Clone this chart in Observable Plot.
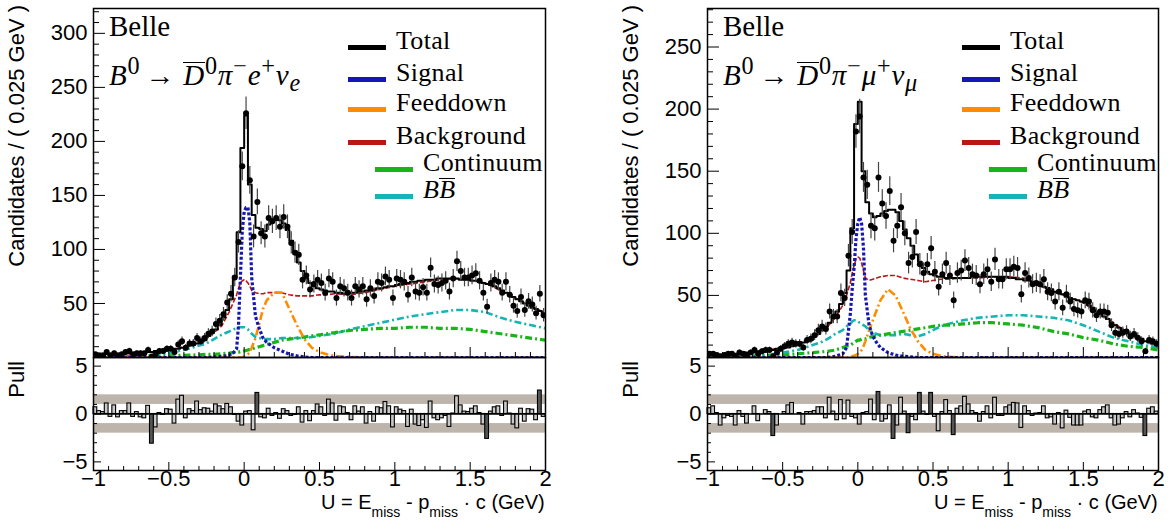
<!DOCTYPE html>
<html><head><meta charset="utf-8">
<script src="https://cdn.jsdelivr.net/npm/d3@7"></script>
<script src="https://cdn.jsdelivr.net/npm/@observablehq/plot@0.6"></script>
<style>
body{margin:0;background:#fff;}
#root{position:relative;width:1170px;height:529px;overflow:hidden;font-family:"Liberation Sans",Arial,sans-serif;color:#000;}
.abs{position:absolute;white-space:nowrap;}
.serif{font-family:"Liberation Serif","Times New Roman",serif;}
.rot{transform-origin:0 0;transform:rotate(-90deg);text-align:right;font-size:22px;line-height:24px;}
.leg-line{position:absolute;height:5px;}
.leg-text{position:absolute;font-size:26px;line-height:26px;letter-spacing:0.3px;white-space:nowrap;font-family:"Liberation Serif","Times New Roman",serif;}
sub.s{font-size:14px;vertical-align:-8px;line-height:0;}
.bar{display:inline-block;line-height:0.72em;border-top:1.5px solid #000;padding-top:2px;}
</style></head>
<body><div id="root"></div>
<script>
// ---------- binning ----------
const BIN_LO = -1, BIN_W = 0.025;   // 120 bins of 0.025 GeV from -1 to 2

// ---------- axis ticks ----------
const xMajor = [-1, -0.5, 0, 0.5, 1, 1.5, 2];
const xMinor = [-0.9,-0.8,-0.7,-0.6,-0.4,-0.3,-0.2,-0.1,0.1,0.2,0.3,0.4,0.6,0.7,0.8,0.9,1.1,1.2,1.3,1.4,1.6,1.7,1.8,1.9];
const xLabels = [-1, -0.5, 0, 0.5, 1, 1.5, 2];
const yLabelsL = [50, 100, 150, 200, 250, 300];
const yLabelsR = [50, 100, 150, 200, 250];
const pullLabels = [-5, 0, 5];
const pullMinor = [-4, -3, -2, -1, 1, 2, 3, 4];
const pullBands = [[1, 2], [-2, -1]];

// ---------- left panel: B0 -> D0bar pi- e+ nu ----------
const leftData = [
 3,2,2,5,2,4,2,3,5,6, 3,4,4,4,7,1,3,6,6,8,
 8,5,12,15,9,13,13,18,15,18, 22,24,31,34,40,51,59,74,107,177,
 226,164,112,144,115,112,129,126,129,121, 130,121,106,97,95,72,76,63,68,72,
 69,60,73,70,55,66,64,60,55,66, 63,66,54,64,57,70,69,75,72,55,
 73,72,70,58,74,61,60,65,60,83, 68,67,69,71,61,73,89,80,74,74,
 76,78,71,60,47,69,72,70,60,70, 58,48,43,56,44,52,49,41,59,39];
const leftTotal = [
 2,2,2,3,3,3,3,3,4,4, 4,4,5,5,5,5,6,6,6,7,
 7,8,8,9,10,11,12,13,14,16, 20,23,26,30,37,44,54,75,116,194,
 224,160,132,120,119,117,123,128,128,127, 124,118,108,98,88,80,73,69,66,64,
 63,62,61,61,60,60,59,59,60,60, 61,61,62,62,63,64,64,65,66,66,
 67,68,68,69,70,70,71,71,72,72, 72,73,73,73,73,73,73,72,72,72,
 71,71,70,69,68,67,66,64,62,60, 58,56,54,52,50,48,46,45,43,41];
const leftPull = [
 0.7,0.3,0.2,1.1,-0.3,0.9,-0.35,0.3,0.3,1.1, -0.3,0.2,-0.35,-0.45,0.85,-3.1,-1.4,0.1,-0.1,0.5,
 0.45,-1.0,1.5,1.9,-0.45,0.5,0.3,1.3,0.4,0.6, 0.55,0.25,1.0,0.8,0.5,1.05,0.7,-0.1,-0.8,-1.2,
 0.25,0.3,-1.7,2.2,-0.35,-0.45,0.55,-0.2,0.1,-0.5, 0.5,0.3,-0.2,-0.1,0.7,-0.9,0.3,-0.75,0.3,1.0,
 0.7,-0.2,1.5,1.1,-0.7,0.8,0.7,0.1,-0.65,0.8, 0.25,0.7,-1.0,0.2,-0.8,0.7,0.6,1.25,0.8,-1.4,
 0.7,0.45,0.3,-1.35,0.45,-1.1,-1.25,-0.65,-1.45,1.3, -0.45,-0.65,-0.45,-0.2,-1.35,0.05,1.85,0.9,0.25,0.2,
 0.55,0.8,0.1,-1.1,-2.6,0.25,0.7,0.8,-0.2,1.3, 0.05,-1.1,-1.5,0.55,-0.8,0.5,0.45,-0.65,2.45,-0.3];

// ---------- right panel: B0 -> D0bar pi- mu+ nu ----------
const rightData = [
 3,3,2,1,2,3,3,1,4,3, 2,4,6,3,5,6,6,1,4,7,
 9,11,12,11,11,8,14,15,18,22, 25,23,37,33,33,52,48,82,101,182,
 194,145,139,106,104,145,124,114,134,94, 106,121,100,76,81,101,75,68,75,88,
 69,57,67,76,66,46,68,70,78,72, 67,66,59,67,71,61,79,63,63,71,
 71,73,72,51,68,64,59,60,59,63, 53,52,45,53,40,51,45,39,38,37,
 46,45,38,34,37,37,36,26,20,19, 20,21,17,19,16,13,5,14,13,11];
const rightTotal = [
 2,2,2,2,3,3,3,3,3,4, 4,4,4,5,5,5,6,6,7,7,
 8,8,9,10,11,12,13,14,17,19, 22,25,28,32,37,43,52,70,104,188,
 206,150,125,116,113,114,116,118,119,119, 117,110,103,96,90,83,77,72,69,67,
 66,65,65,64,64,64,64,64,64,64, 65,65,65,65,65,65,65,65,65,65,
 64,64,63,63,62,62,61,60,58,57, 56,55,53,52,51,49,48,47,46,45,
 44,42,40,37,35,33,31,28,26,24, 22,20,19,17,16,15,13,12,11,10];
const rightPull = [
 0.6,0.8,0.1,-1.2,-0.45,-0.2,-0.3,-1.2,0.3,-0.3, -1.0,0.0,0.8,-0.75,0.0,0.4,0.2,-2.3,-1.2,0.0,
 0.2,0.9,1.15,0.0,0.1,-1.1,0.2,0.2,0.3,0.7, 0.7,-0.45,1.7,0.25,-0.65,1.45,-0.55,1.4,-0.3,-0.45,
 -1.1,0.1,0.2,1.5,-0.65,2.3,-0.8,-0.55,0.9,-2.6, -1.2,1.7,0.25,-2.0,-0.3,-0.65,2.2,0.25,-0.1,2.2,
 -0.3,-1.8,0.2,1.45,0.3,-2.2,0.55,0.8,1.8,1.0, 0.3,0.1,-0.8,0.2,0.8,-0.45,1.7,-0.2,-0.2,0.7,
 0.9,1.15,1.1,-1.45,0.8,0.3,-0.2,0.05,0.1,0.8, -0.45,-0.35,-1.1,0.1,-1.5,0.35,-0.4,-1.2,-1.2,-1.2,
 0.25,0.4,-0.35,-0.45,0.4,0.7,0.9,-0.45,-1.2,-1.1, -0.45,0.2,-0.35,0.4,0.05,-0.4,-2.3,0.55,0.7,0.25];

// ---------- fit components (sampled at uComp) ----------
const uComp = [-1,-0.9,-0.8,-0.7,-0.6,-0.5,-0.4,-0.3,-0.25,-0.2,-0.15,-0.1,-0.075,-0.05,-0.0375,-0.025,-0.0125,0,0.0125,0.025,0.0375,0.05,0.075,0.1,0.125,0.15,0.2,0.25,0.3,0.35,0.4,0.45,0.5,0.55,0.6,0.7,0.8,0.9,1.0,1.1,1.2,1.3,1.4,1.5,1.6,1.7,1.8,1.9,2.0];
const sigL  = [0,0,0,0,0,0,0,0,0,0.5,1,2,4,8,30,74,117,135,139,139,125,74,38,27,18,14,9,6,3,1.5,0.5,0,0,0,0,0,0,0,0,0,0,0,0,0,0,0,0,0,0];
const fdL   = [0,0,0,0,0,0,0,0,0,0,0,0,0,0,0,0,0,1,2,3,5,9,18,31,45,53,60,60,45,30,17,9,5,3,1.5,0.5,0,0,0,0,0,0,0,0,0,0,0,0,0];
const bkgL  = [2,2.5,3,4,5,6,10,15,18,23,29,42,50,58,64,69,71,72,71,69,66,62,60,59,59,60,60,60,58,57,57,57,58,58,59,58,60,63,66,68,70,72,73,72,69,62,55,48,41];
const contL = [0,0,0.5,1,1,1.5,2,2.5,3,3,3.5,4,4.5,5,5,5.5,5.5,6,6.5,7,7.5,8,9,10,11,12,14,16,17,18,19,20,21,22,23,25,26,27,27,28,28,27,27,26,24,22,20,18,16];
const bbL   = [0,0,0.5,1,2,4,7,11,13,17,21,24,26,27,28,28,28,28,27,26,24,22,19,18,17,17,17,18,18,18,18,19,20,21,22,26,29,32,35,38,40,42,44,44,42,37,33,30,27];
const sigR  = [0,0,0,0,0,0,0,0,0,0,1,3,8,35,55,72,95,108,113,108,88,50,26,17,12,8,4,2,1,0.5,0,0,0,0,0,0,0,0,0,0,0,0,0,0,0,0,0,0,0];
const fdR   = [0,0,0,0,0,0,0,0,0,0,0,0,0,0.5,1,1.5,2,3,4,6,9,13,22,30,38,46,55,50,37,23,13,6,3,1.5,0.5,0,0,0,0,0,0,0,0,0,0,0,0,0,0];
const bkgR  = [2,2,3,4,6,8,11,17,20,25,32,42,50,60,68,74,79,81,80,76,70,64,62,63,64,65,66,66,64,63,62,61,62,63,63,64,64,65,65,64,59,53,49,44,36,28,20,14,10];
const contR = [0,0.5,1,1,1.5,2,3,4,4.5,5,6,8,9,10,11,12,13,14,14,15,15,15,16,17,17,18,19,20,21,22,23,24,25,26,26,27,28,28,27,26,24,21,19,16,14,11,9,8,6];
const bbR   = [0,0.5,1,1.5,2,4,6,10,12,15,19,22,25,27,29,30,30,29,28,27,26,25,22,20,19,18,18,18,19,18,17,19,22,25,27,30,32,33,34,34,33,32,30,26,21,16,13,10,8];

// ---------- legend ----------
const legendKeys   = ["total", "sig", "fd", "bkg", "cont", "bb"];
const legendLabels = ["Total", "Signal", "Feeddown", "Background", "Continuum", "<i>B</i><i class='bar'>B</i>"];
const COL = {total:"#000000", sig:"#1616b2", fd:"#ff8c00", bkg:"#bb1616", cont:"#18b418", bb:"#16b4b4"};
const compStyle = {
  bb:   {strokeWidth: 2.6, strokeDasharray: "7,3,2,3"},
  cont: {strokeWidth: 3.2, strokeDasharray: "7,3,2,3"},
  bkg:  {strokeWidth: 1.6, strokeDasharray: "5,2"},
  fd:   {strokeWidth: 2.6, strokeDasharray: "8,3,2,3"},
  sig:  {strokeWidth: 3.2, strokeDasharray: "3,2"}
};

const arrow = "<span style='margin:0 8px 0 5px'>&#8594;</span>";
const panels = [
  {left: 0,   width: 585, mr: 40, ymax: 323, yLabels: yLabelsL, data: leftData,  total: leftTotal,  pull: leftPull,
   comp: {sig: sigL, fd: fdL, bkg: bkgL, cont: contL, bb: bbL},
   decay: "<i>B</i><sup>0</sup>" + arrow + "<i class='bar'>D</i><sup>0</sup><i>π</i><sup>−</sup><i>e</i><sup>+</sup><i>ν</i><sub><i>e</i></sub>"},
  {left: 614, width: 556, mr: 12, ymax: 281, yLabels: yLabelsR, data: rightData, total: rightTotal, pull: rightPull,
   comp: {sig: sigR, fd: fdR, bkg: bkgR, cont: contR, bb: bbR},
   decay: "<i>B</i><sup>0</sup>" + arrow + "<i class='bar'>D</i><sup>0</sup><i>π</i><sup>−</sup><i>μ</i><sup>+</sup><i>ν</i><sub><i>μ</i></sub>"}
];

const fmt = d => d < 0 ? "\u2212" + String(Math.abs(d)) : String(d);
const style = {fontFamily: "'Liberation Sans', Arial, sans-serif", fontSize: "22px", color: "black", background: "transparent", overflow: "visible"};
const root = document.getElementById("root");

function place(el, left, top) {
  el.style.position = "absolute"; el.style.left = left + "px"; el.style.top = top + "px";
  root.appendChild(el);
}

for (const p of panels) {
  const bins = p.data.map((n, i) => ({u: BIN_LO + BIN_W * (i + 0.5), n, fit: p.total[i]}));
  const comps = uComp.map((u, i) => ({u, sig: p.comp.sig[i], fd: p.comp.fd[i], bkg: p.comp.bkg[i], cont: p.comp.cont[i], bb: p.comp.bb[i]}));
  const H = 359, mt = 8, mb = 2, ml = 93;
  const plotW = p.width - ml - p.mr, plotH = H - mt - mb;
  const yMinor = d3.range(0, p.ymax, 10).filter(v => v % 50 !== 0);
  const yMajor = d3.range(0, p.ymax, 50);
  const compMarks = ["bb", "cont", "bkg", "fd", "sig"].map(k =>
    Plot.line(comps, {x: "u", y: k, stroke: COL[k], strokeLinecap: "butt", strokeLinejoin: "miter", ...compStyle[k], clip: true}));
  const main = Plot.plot({
    width: p.width, height: H, marginLeft: ml, marginRight: p.mr, marginTop: mt, marginBottom: mb,
    x: {domain: [-1, 2], axis: null},
    y: {domain: [0, p.ymax], axis: null},
    style,
    marks: [
      ...compMarks,
      Plot.line(bins, {x: "u", y: "fit", curve: "step", stroke: "black", strokeWidth: 2, clip: true}),
      Plot.ruleX(bins, {x: "u", y1: d => d.n - Math.sqrt(d.n), y2: d => d.n + Math.sqrt(d.n), stroke: "#444", strokeWidth: 1.2, clip: true}),
      Plot.dot(bins, {x: "u", y: "n", r: 3, fill: "black", clip: true}),
      Plot.tickY(yMinor, {y: d => d, stroke: "black", strokeWidth: 1, insetRight: plotW - 6}),
      Plot.tickY(yMajor, {y: d => d, stroke: "black", strokeWidth: 1, insetRight: plotW - 12}),
      Plot.tickX(xMinor, {x: d => d, stroke: "black", strokeWidth: 1, insetTop: plotH - 5}),
      Plot.tickX(xMajor, {x: d => d, stroke: "black", strokeWidth: 1, insetTop: plotH - 10}),
      Plot.axisY({ticks: p.yLabels, tickSize: 0, tickPadding: 6, tickFormat: fmt, label: null}),
      Plot.frame({stroke: "black", strokeWidth: 1.5})
    ]
  });
  place(main, p.left, 0);

  // pull pad
  const PH = 175, pmt = 2, pmb = 60;
  const pplotW = p.width - ml - p.mr, pplotH = PH - pmt - pmb;
  const pulls = p.pull.map((v, i) => ({x1: BIN_LO + BIN_W * i, x2: BIN_LO + BIN_W * (i + 1), v}));
  const pull = Plot.plot({
    width: p.width, height: PH, marginLeft: ml, marginRight: p.mr, marginTop: pmt, marginBottom: pmb,
    x: {domain: [-1, 2], axis: null},
    y: {domain: [-5.9, 5.9], axis: null},
    style,
    marks: [
      Plot.rect(pullBands, {y1: d => d[0], y2: d => d[1], fill: "#bdb4ab"}),
      Plot.rect(pulls.filter(d => Math.abs(d.v) < 2), {x1: "x1", x2: "x2", y1: 0, y2: "v", fill: "#c9c9c9", stroke: "black", strokeWidth: 1.1}),
      Plot.rect(pulls.filter(d => Math.abs(d.v) >= 2), {x1: "x1", x2: "x2", y1: 0, y2: "v", fill: "#555555", stroke: "black", strokeWidth: 1.1}),
      Plot.ruleY([0], {stroke: "black", strokeWidth: 1.6}),
      Plot.tickY(pullMinor, {y: d => d, stroke: "black", insetRight: pplotW - 4}),
      Plot.tickY(pullLabels, {y: d => d, stroke: "black", insetRight: pplotW - 8}),
      Plot.tickX(xMinor, {x: d => d, stroke: "black", insetTop: pplotH - 4}),
      Plot.tickX(xMajor, {x: d => d, stroke: "black", insetTop: pplotH - 8}),
      Plot.axisY({ticks: pullLabels, tickSize: 0, tickPadding: 6, tickFormat: fmt, label: null}),
      Plot.axisX({ticks: xLabels, tickSize: 0, tickPadding: 0, tickFormat: fmt, label: null}),
      Plot.frame({stroke: "black", strokeWidth: 1.5})
    ]
  });
  place(pull, p.left, 355);

  const fx = p.left + ml;              // frame left in page coords
  const fr = p.left + p.width - p.mr;  // frame right

  // axis titles
  const yt = document.createElement("div");
  yt.className = "abs rot"; yt.style.width = "352px"; yt.textContent = "Candidates / ( 0.025 GeV )";
  place(yt, p.left + 5, 357);
  const pt = document.createElement("div");
  pt.className = "abs rot"; pt.style.width = "109px"; pt.textContent = "Pull";
  place(pt, p.left + 5, 470);
  const xt = document.createElement("div");
  xt.className = "abs"; xt.style.fontSize = "20px"; xt.style.lineHeight = "20px";
  xt.innerHTML = "U = E<sub class='s'>miss</sub> - p<sub class='s'>miss</sub> &#183; c (GeV)";
  root.appendChild(xt);
  xt.style.position = "absolute"; xt.style.top = "492px"; xt.style.left = (fr - xt.offsetWidth) + "px";

  // titles
  const belle = document.createElement("div");
  belle.className = "abs serif"; belle.style.fontSize = "29px"; belle.style.lineHeight = "29px"; belle.textContent = "Belle";
  place(belle, fx + 16, 12);
  const decay = document.createElement("div");
  decay.className = "abs serif"; decay.style.fontSize = "29px"; decay.style.lineHeight = "29px"; decay.style.letterSpacing = "0.8px"; decay.innerHTML = p.decay;
  place(decay, fx + 16, 51);

  // legend
  const legY = [47, 79, 109, 142, 169, 196];
  legendKeys.forEach((k, i) => {
    const indent = i >= 4 ? 27 : 0;
    const ln = document.createElement("div");
    ln.className = "leg-line"; ln.style.background = COL[k]; ln.style.width = "38px";
    place(ln, fx + 255 + indent, legY[i] - 2.5);
    const tx = document.createElement("div");
    tx.className = "leg-text"; tx.innerHTML = legendLabels[i];
    place(tx, fx + 303 + indent, legY[i] - 19);
  });
}
</script>
</body></html>
